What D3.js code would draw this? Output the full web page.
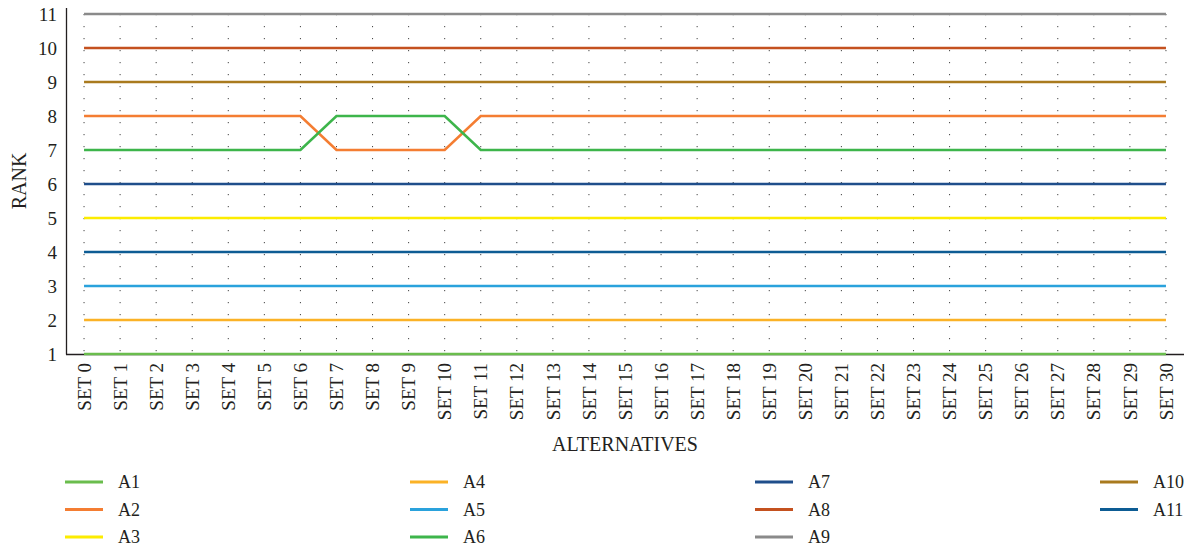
<!DOCTYPE html>
<html>
<head>
<meta charset="utf-8">
<script src="https://cdn.jsdelivr.net/npm/d3@7"></script>
<style>
  body { margin: 0; background: #fff; }
  text { font-family: "Liberation Serif", "DejaVu Serif", serif; fill: #231f20; }
</style>
</head>
<body>
<svg id="viz"></svg>
<script>
/* data */
var sets = ["SET 0", "SET 1", "SET 2", "SET 3", "SET 4", "SET 5", "SET 6", "SET 7",
	"SET 8", "SET 9", "SET 10", "SET 11", "SET 12", "SET 13", "SET 14", "SET 15",
	"SET 16", "SET 17", "SET 18", "SET 19", "SET 20", "SET 21", "SET 22", "SET 23",
	"SET 24", "SET 25", "SET 26", "SET 27", "SET 28", "SET 29", "SET 30"];

var rankTicks = [1, 2, 3, 4, 5, 6, 7, 8, 9, 10, 11];

var a1  = [1,1,1,1,1,1,1,1,1,1,1,1,1,1,1,1,1,1,1,1,1,1,1,1,1,1,1,1,1,1,1];
var a2  = [8,8,8,8,8,8,8,7,7,7,7,8,8,8,8,8,8,8,8,8,8,8,8,8,8,8,8,8,8,8,8];
var a3  = [5,5,5,5,5,5,5,5,5,5,5,5,5,5,5,5,5,5,5,5,5,5,5,5,5,5,5,5,5,5,5];
var a4  = [2,2,2,2,2,2,2,2,2,2,2,2,2,2,2,2,2,2,2,2,2,2,2,2,2,2,2,2,2,2,2];
var a5  = [3,3,3,3,3,3,3,3,3,3,3,3,3,3,3,3,3,3,3,3,3,3,3,3,3,3,3,3,3,3,3];
var a6  = [7,7,7,7,7,7,7,8,8,8,8,7,7,7,7,7,7,7,7,7,7,7,7,7,7,7,7,7,7,7,7];
var a7  = [6,6,6,6,6,6,6,6,6,6,6,6,6,6,6,6,6,6,6,6,6,6,6,6,6,6,6,6,6,6,6];
var a8  = [10,10,10,10,10,10,10,10,10,10,10,10,10,10,10,10,10,10,10,10,10,10,10,10,10,10,10,10,10,10,10];
var a9  = [11,11,11,11,11,11,11,11,11,11,11,11,11,11,11,11,11,11,11,11,11,11,11,11,11,11,11,11,11,11,11];
var a10 = [9,9,9,9,9,9,9,9,9,9,9,9,9,9,9,9,9,9,9,9,9,9,9,9,9,9,9,9,9,9,9];
var a11 = [4,4,4,4,4,4,4,4,4,4,4,4,4,4,4,4,4,4,4,4,4,4,4,4,4,4,4,4,4,4,4];

var names = ["A1", "A2", "A3", "A4", "A5", "A6", "A7", "A8", "A9", "A10", "A11"];
var values = [a1, a2, a3, a4, a5, a6, a7, a8, a9, a10, a11];
var colors = ["#6abd4d", "#f47d32", "#fcec00", "#fbb226", "#2aa2dc", "#3db54b",
	"#1f4e8b", "#c4511f", "#8a8a8a", "#a97a1e", "#0d5c94"];

/* create svg */
var width = 1191,
	height = 550;

var svg = d3.select('#viz')
		.attr('width', width)
		.attr('height', height);

var x = d3.scalePoint()
	.domain(sets)
	.range([66, 1184])
	.padding(0.5);

var y = d3.scaleLinear()
	.domain([1, 11])
	.range([354, 14]);

// dotted vertical grid
svg.append('g')
	.selectAll('line')
	.data(sets)
	.enter().append('line')
	.attr('x1', function(d){ return x(d); })
	.attr('x2', function(d){ return x(d); })
	.attr('y1', y(11))
	.attr('y2', y(1))
	.attr('stroke', '#444')
	.attr('stroke-width', 1)
	.attr('stroke-dasharray', '1.2,10.8');

// axes
var yAxis = d3.axisLeft(y)
			.tickValues(rankTicks)
			.tickSize(0)
			.tickPadding(9)
			.tickFormat(d3.format('d'));

var xAxis = d3.axisBottom(x)
			.tickSize(0);

var gy = svg.append('g')
	.attr('transform', 'translate(66,0)')
	.call(yAxis);
gy.select('.domain').remove();
gy.selectAll('text')
	.style('font-size', '19px')
	.attr('fill', '#231f20');

svg.append('line')
	.attr('x1', 66.5).attr('x2', 66.5)
	.attr('y1', 8).attr('y2', 354.5)
	.attr('stroke', '#231f20')
	.attr('stroke-width', 1.3);

var gx = svg.append('g')
	.attr('transform', 'translate(0,354)')
	.call(xAxis);
gx.select('.domain').remove();
gx.selectAll('text')
	.style('font-size', '19px')
	.attr('fill', '#231f20')
	.attr('text-anchor', 'end')
	.attr('transform', 'rotate(-90)')
	.attr('x', -9)
	.attr('y', 0)
	.attr('dy', '0.35em');
gx.selectAll('.tick')
	.attr('transform', function(d){ return 'translate(' + x(d) + ',0)'; });

svg.append('line')
	.attr('x1', 66).attr('x2', 1184)
	.attr('y1', 354.5).attr('y2', 354.5)
	.attr('stroke', '#231f20')
	.attr('stroke-width', 1.3);

// series lines
var line = d3.line()
		.x(function(d, i){ return x(sets[i]); })
		.y(function(d){ return y(d); });

svg.append('g')
	.selectAll('path')
	.data(values)
	.enter().append('path')
	.attr('d', function(d){ return line(d); })
	.attr('fill', 'none')
	.attr('stroke', function(d, i){ return colors[i]; })
	.attr('stroke-width', 2.6);

// axis titles
svg.append('text')
	.attr('x', 625)
	.attr('y', 451)
	.attr('text-anchor', 'middle')
	.style('font-size', '20px')
	.text('ALTERNATIVES');

svg.append('text')
	.attr('transform', 'translate(26,181) rotate(-90)')
	.attr('text-anchor', 'middle')
	.style('font-size', '20px')
	.text('RANK');

// legend, 3 per column
var legend = svg.append('g')
	.selectAll('g')
	.data(names)
	.enter().append('g')
	.attr('transform', function(d, i){
		return 'translate(' + (65 + Math.floor(i / 3) * 345) + ',' + (482 + (i % 3) * 27.5) + ')';
	});

legend.append('line')
	.attr('x1', 0).attr('x2', 38)
	.attr('y1', 0).attr('y2', 0)
	.attr('stroke', function(d, i){ return colors[i]; })
	.attr('stroke-width', 3);

legend.append('text')
	.attr('x', 53)
	.attr('y', 6)
	.style('font-size', '18px')
	.text(function(d){ return d; });
</script>
</body>
</html>
